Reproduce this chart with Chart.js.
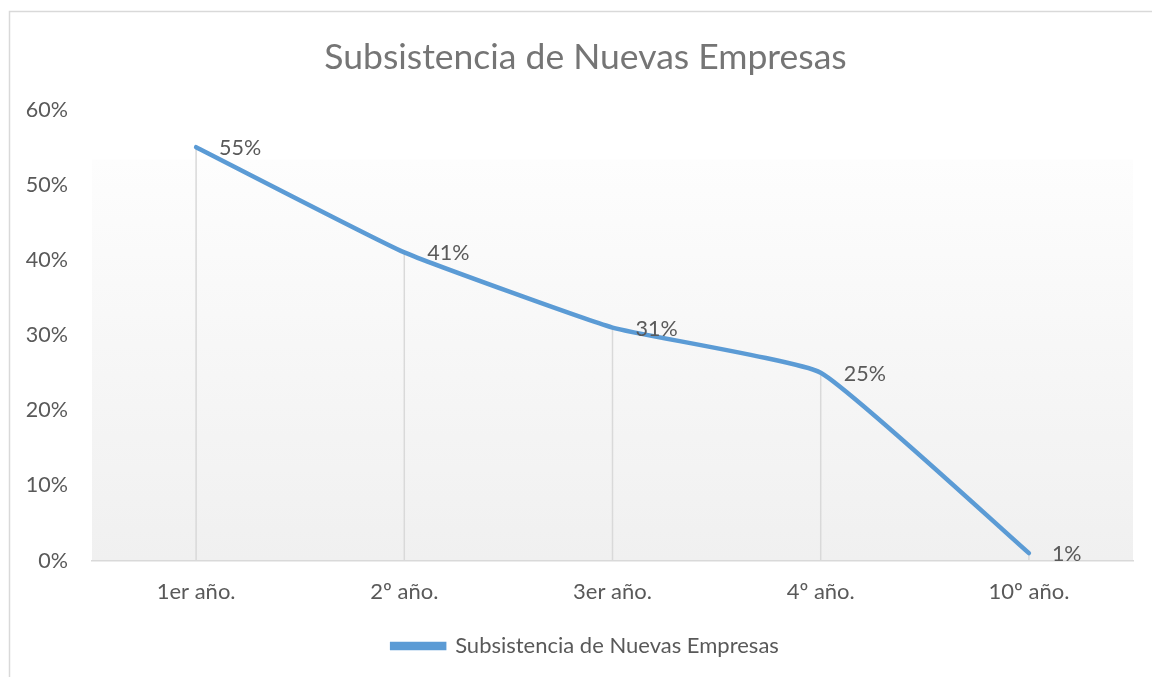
<!DOCTYPE html>
<html>
<head>
<meta charset="utf-8">
<script src="https://cdn.jsdelivr.net/npm/chart.js@4/dist/chart.umd.min.js"></script>
<style>
html,body{margin:0;padding:0;background:#fff;}
#wrap{width:1152px;height:677px;position:relative;}
</style>
</head>
<body>
<div id="wrap"><canvas id="c" width="1152" height="677"></canvas></div>
<script>
const chartTitle = 'Subsistencia de Nuevas Empresas';
const categories = ['1er año.', '2º año.', '3er año.', '4º año.', '10º año.'];
const seriesName = 'Subsistencia de Nuevas Empresas';
const values = [55, 41, 31, 25, 1];
const yTickValues = [0, 10, 20, 30, 40, 50, 60];

const FONT = 'Lato, "Open Sans", sans-serif';
const LINE_COLOR = '#5b9bd5';
const TEXT = '#595959';

const framePlugin = {
  id: 'frame',
  afterLayout(chart) {
    // centre title and legend on the whole chart frame, as the original does
    const shift = 19;
    [chart.titleBlock, chart.legend].forEach(b => {
      if (!b) return;
      b.left += shift; b.right += shift;
    });
    if (chart.legend && chart.legend.legendHitBoxes) {
      chart.legend.legendHitBoxes.forEach(h => { h.left += shift; });
    }
  },
  beforeDraw(chart) {
    const ctx = chart.ctx, a = chart.chartArea;
    ctx.save();
    ctx.fillStyle = '#ffffff';
    ctx.fillRect(0, 0, chart.width, chart.height);
    ctx.strokeStyle = '#d9d9d9';
    ctx.lineWidth = 1.5;
    ctx.strokeRect(9.5, 11.5, chart.width + 20, chart.height + 20);
    const top = a.top + 50;
    const g = ctx.createLinearGradient(0, top, 0, a.bottom);
    g.addColorStop(0, '#fdfdfd');
    g.addColorStop(1, '#f0f0f0');
    ctx.fillStyle = g;
    ctx.fillRect(a.left, top, a.right - a.left, a.bottom - top);
    ctx.restore();
  }
};

const dropLines = {
  id: 'dropLines',
  beforeDatasetsDraw(chart) {
    const ctx = chart.ctx, a = chart.chartArea;
    const meta = chart.getDatasetMeta(0);
    ctx.save();
    ctx.strokeStyle = '#d9d9d9';
    ctx.lineWidth = 1.5;
    meta.data.forEach(p => {
      ctx.beginPath();
      ctx.moveTo(p.x, p.y);
      ctx.lineTo(p.x, a.bottom);
      ctx.stroke();
    });
    ctx.restore();
  }
};

const dataLabels = {
  id: 'dataLabels',
  afterDatasetsDraw(chart) {
    const ctx = chart.ctx;
    const meta = chart.getDatasetMeta(0);
    const ds = chart.data.datasets[0].data;
    ctx.save();
    ctx.fillStyle = TEXT;
    ctx.font = '21.5px ' + FONT;
    ctx.textAlign = 'left';
    ctx.textBaseline = 'middle';
    meta.data.forEach((p, i) => {
      ctx.fillText(ds[i] + '%', p.x + 23, p.y + 1);
    });
    ctx.restore();
  }
};

new Chart(document.getElementById('c'), {
  type: 'line',
  data: {
    labels: categories,
    datasets: [{
      label: seriesName,
      data: values,
      borderColor: LINE_COLOR,
      backgroundColor: LINE_COLOR,
      borderWidth: 4.5,
      pointRadius: 0,
      pointHoverRadius: 0,
      tension: 0.12,
      borderCapStyle: 'round',
      fill: false
    }]
  },
  options: {
    responsive: false,
    animation: false,
    events: [],
    layout: { padding: { left: 0, right: 19, top: 0, bottom: 10 } },
    plugins: {
      title: {
        display: true,
        text: chartTitle,
        color: '#757575',
        font: { family: FONT, size: 35.5, weight: 'normal' },
        padding: { top: 36, bottom: 31 }
      },
      legend: {
        display: true,
        position: 'bottom',
        labels: {
          color: TEXT,
          font: { family: FONT, size: 22 },
          boxWidth: 52,
          boxHeight: 4,
          padding: 12
        }
      },
      tooltip: { enabled: false }
    },
    scales: {
      x: {
        offset: true,
        grid: { display: false, drawTicks: false },
        border: { display: true, color: '#d9d9d9', width: 1.5 },
        ticks: { color: TEXT, font: { family: FONT, size: 22 }, padding: 18, maxRotation: 0 }
      },
      y: {
        min: 0,
        max: 60,
        afterBuildTicks(scale) { scale.ticks = yTickValues.map(v => ({ value: v })); },
        afterFit(scale) { scale.width = 92; },
        grid: { display: false, drawTicks: false },
        border: { display: false },
        ticks: {
          color: TEXT,
          font: { family: FONT, size: 21.5 },
          padding: 24,
          callback: v => v + '%'
        }
      }
    }
  },
  plugins: [framePlugin, dropLines, dataLabels]
});
</script>
</body>
</html>
